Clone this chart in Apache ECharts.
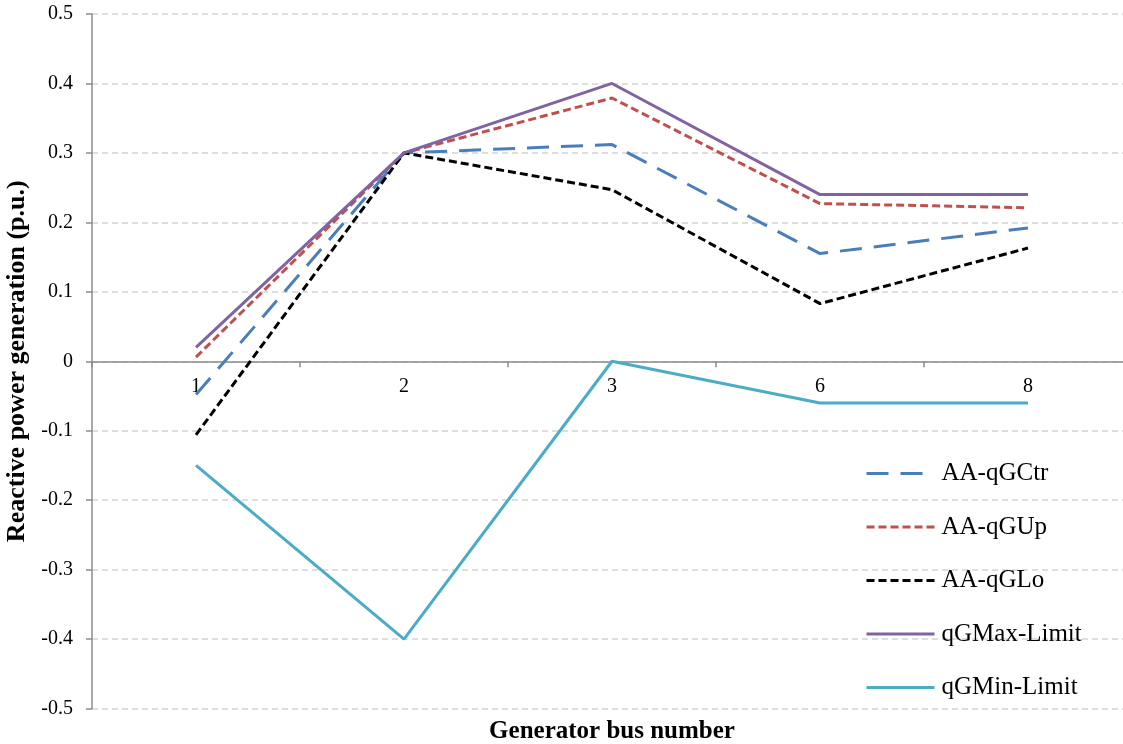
<!DOCTYPE html>
<html>
<head>
<meta charset="utf-8">
<script src="https://cdn.jsdelivr.net/npm/echarts@6/dist/echarts.min.js"></script>
<style>
html,body{margin:0;padding:0;background:#fff;}
#chart{width:1123px;height:744px;}
</style>
</head>
<body>
<div id="chart"></div>
<script>
var categories = ['1', '2', '3', '6', '8'];
var qGCtr = [-0.048, 0.300, 0.312, 0.155, 0.192];
var qGUp = [0.006, 0.300, 0.379, 0.227, 0.221];
var qGLo = [-0.106, 0.300, 0.247, 0.083, 0.163];
var qGMax = [0.020, 0.300, 0.400, 0.240, 0.240];
var qGMin = [-0.150, -0.400, 0.000, -0.060, -0.060];
var yTicks = { min: -0.5, max: 0.5, interval: 0.1 };

var font = '"Liberation Serif", "Times New Roman", serif';
var chart = echarts.init(document.getElementById('chart'));

var gridTop = 14, gridBottom = 35.5, H = 744;
var plotH = H - gridTop - gridBottom;
// distance from the bottom of the grid up to the value 0
var zeroOffset = plotH * (0 - yTicks.min) / (yTicks.max - yTicks.min);

function mk(name, data, color, dash) {
  return {
    name: name,
    type: 'line',
    data: data,
    symbol: 'none',
    showSymbol: false,
    lineStyle: { color: color, width: 3, type: dash },
    itemStyle: { color: color },
    animation: false
  };
}

chart.setOption({
  animation: false,
  backgroundColor: '#fff',
  grid: { left: 92, right: -9, top: gridTop, bottom: gridBottom, containLabel: false, outerBoundsMode: 'none' },
  legend: {
    orient: 'vertical',
    left: 865,
    top: 461,
    padding: 0,
    itemWidth: 68,
    itemHeight: 14,
    itemGap: 28.5,
    itemStyle: { opacity: 0 },
    lineStyle: { width: 3 },
    textStyle: { fontFamily: font, fontSize: 25, color: '#000', lineHeight: 25, padding: [0, 0, 0, 2] },
    data: ['AA-qGCtr', 'AA-qGUp', 'AA-qGLo', 'qGMax-Limit', 'qGMin-Limit']
  },
  xAxis: {
    type: 'category',
    data: categories,
    boundaryGap: true,
    position: 'bottom',
    offset: -zeroOffset,
    name: 'Generator bus number',
    nameLocation: 'middle',
    nameGap: 358,
    nameTextStyle: { fontFamily: font, fontSize: 25, fontWeight: 'bold', color: '#000' },
    axisLine: { onZero: false, lineStyle: { color: '#8c8c8c', width: 1.5 } },
    axisTick: { show: true, length: 6, inside: false, lineStyle: { color: '#8c8c8c', width: 1.5 } },
    axisLabel: { fontFamily: font, fontSize: 20, color: '#000', margin: 15 },
    splitLine: { show: false }
  },
  yAxis: {
    type: 'value',
    min: yTicks.min,
    max: yTicks.max,
    interval: yTicks.interval,
    name: 'Reactive power generation (p.u.)',
    nameLocation: 'middle',
    nameGap: 58,
    nameTextStyle: { fontFamily: font, fontSize: 26, fontWeight: 'bold', color: '#000' },
    axisLine: { show: true, lineStyle: { color: '#8c8c8c', width: 1.5 } },
    axisTick: { show: true, length: 6, inside: false, lineStyle: { color: '#8c8c8c', width: 1.5 } },
    axisLabel: {
      fontFamily: font, fontSize: 20, color: '#000', margin: 19,
      formatter: function (v) { return String(+v.toFixed(1)); }
    },
    splitLine: { show: true, lineStyle: { color: '#d4d4d4', width: 1.5, type: [6, 4] } }
  },
  series: [
    mk('AA-qGCtr', qGCtr, '#4A7EBB', [22, 12]),
    mk('AA-qGUp', qGUp, '#C0504D', [8, 4]),
    mk('AA-qGLo', qGLo, '#000000', [8, 4]),
    mk('qGMax-Limit', qGMax, '#8064A2', 'solid'),
    mk('qGMin-Limit', qGMin, '#4BACC6', 'solid')
  ]
});
</script>
</body>
</html>
